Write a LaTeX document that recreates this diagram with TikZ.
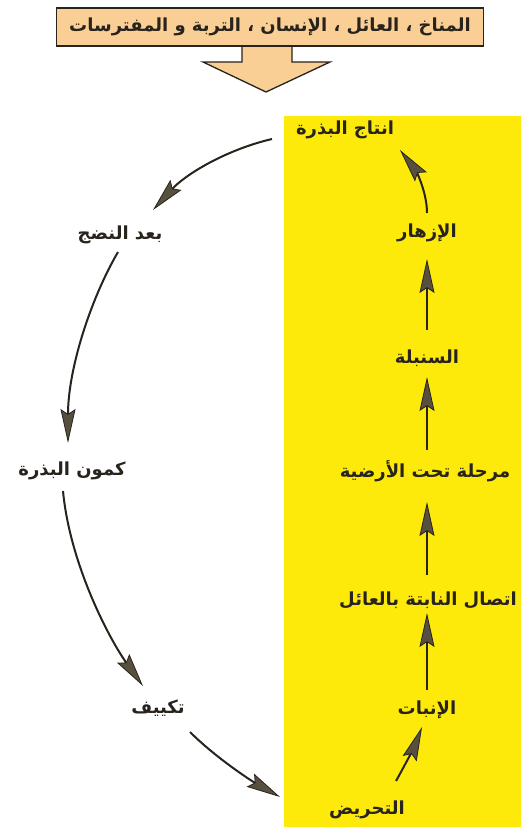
\documentclass[tikz,border=0pt]{standalone}
\usepackage{fontspec}
\usetikzlibrary{arrows.meta}
\TeXXeTstate=1
\newfontfamily\arabicfont[Script=Arabic]{DejaVu Sans}
\definecolor{ylw}{RGB}{253,234,10}
\definecolor{boxor}{RGB}{249,207,149}
\definecolor{ink}{RGB}{40,35,28}
\definecolor{tipfill}{RGB}{88,80,62}
\tikzset{
  lbl/.style={font=\arabicfont\bfseries\fontsize{18}{20}\selectfont, text=ink, inner sep=0pt},
  arr/.style={draw=ink, line width=2pt,
    -{Stealth[length=34pt,width=15pt,inset=5pt,fill=tipfill,line width=0.8pt]}},
}
\begin{document}
\begin{tikzpicture}[x=1pt,y=-1pt]
\useasboundingbox (0,0) rectangle (521,827);
\fill[white] (0,0) rectangle (521,827);
\fill[ylw] (284,116) rectangle (521,827);
% big top arrow
\filldraw[fill=boxor, draw=ink, line width=1.3pt, line join=miter]
  (242,44) -- (242,62) -- (203,62) -- (266,92) -- (330,62) -- (292,62) -- (292,44);
\node[draw=ink, line width=1.3pt, fill=boxor, minimum width=427pt, minimum height=38pt, inner sep=0pt,
  font=\arabicfont\bfseries\fontsize{18}{20}\selectfont, text=ink] (top) at (270,27)
  {\beginR المناخ ، العائل ، الإنسان ، التربة و المفترسات\endR};
% nodes
\node[lbl] (entaj)   at (345,130) {\beginR انتاج البذرة\endR};
\node[lbl] (izhar)   at (427,233) {\beginR الإزهار\endR};
\node[lbl] (sunbula) at (427,358) {\beginR السنبلة\endR};
\node[lbl] (marhala) at (425,471) {\beginR مرحلة تحت الأرضية\endR};
\node[lbl] (ittisal) at (428,600) {\beginR اتصال النابتة بالعائل\endR};
\node[lbl] (inbat)   at (427,710) {\beginR الإنبات\endR};
\node[lbl] (tahrid)  at (367,810) {\beginR التحريض\endR};
\node[lbl] (baad)    at (120,235) {\beginR بعد النضج\endR};
\node[lbl] (kumun)   at (72,471)  {\beginR كمون البذرة\endR};
\node[lbl] (takyif)  at (158,708) {\beginR تكييف\endR};
% connectors
\draw[arr] ([shift={(-73,9)}]entaj.center) .. controls (225,150) and (185,175) .. ([shift={(33,-25)}]baad.center);
\draw[arr] ([shift={(-2,17)}]baad.center) .. controls (90,300) and (68,370) .. ([shift={(-4,-28)}]kumun.center);
\draw[arr] ([shift={(-9,20)}]kumun.center) .. controls (70,565) and (110,640) .. ([shift={(-15,-22)}]takyif.center);
\draw[arr] ([shift={(32,24)}]takyif.center) .. controls (215,757) and (250,780) .. ([shift={(-87,-13)}]tahrid.center);
\draw[arr] ([shift={(29,-29)}]tahrid.center) .. controls (405,765) and (415,745) .. ([shift={(-5,17)}]inbat.center);
\draw[arr] ([shift={(0,-20)}]inbat.center) -- ([shift={(-1,13)}]ittisal.center);
\draw[arr] ([shift={(-1,-25)}]ittisal.center) -- ([shift={(2,31)}]marhala.center);
\draw[arr] ([shift={(2,-21)}]marhala.center) -- ([shift={(0,19)}]sunbula.center);
\draw[arr] ([shift={(0,-28)}]sunbula.center) -- ([shift={(0,26)}]izhar.center);
\draw[arr] ([shift={(0,-20)}]izhar.center) .. controls (427,190) and (414,168) .. ([shift={(55,20)}]entaj.center);
\end{tikzpicture}
\end{document}
